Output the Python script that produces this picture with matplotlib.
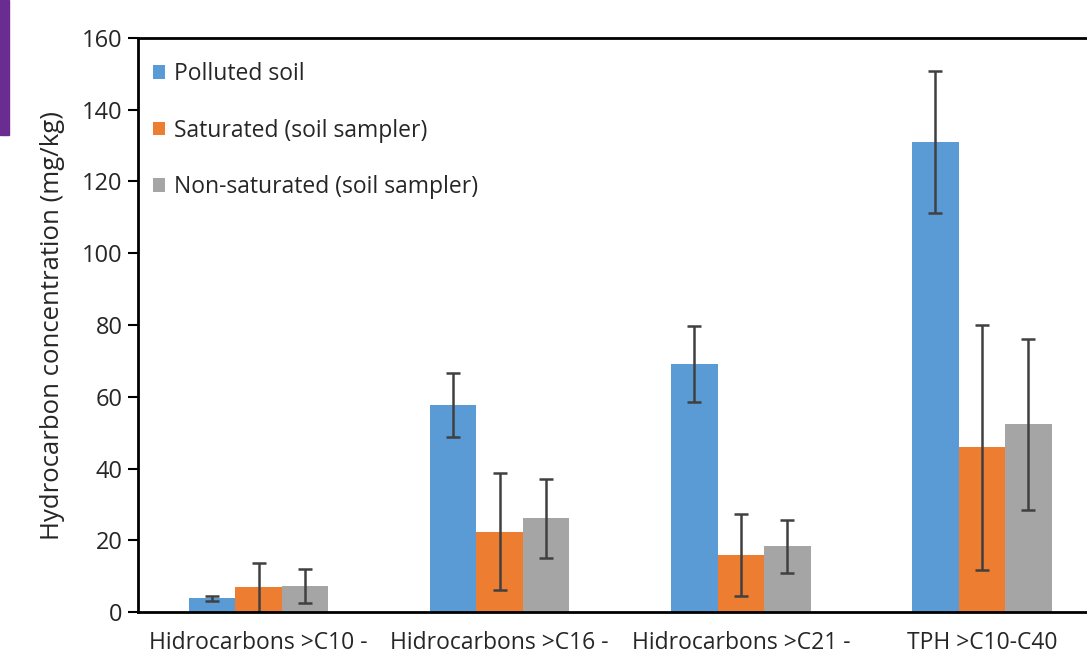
import matplotlib
matplotlib.use("Agg")
import matplotlib.pyplot as plt
import numpy as np
from matplotlib.patches import Rectangle

categories = ["Hidrocarbons >C10 -", "Hidrocarbons >C16 -", "Hidrocarbons >C21 -", "TPH >C10-C40"]
series_names = ["Polluted soil", "Saturated (soil sampler)", "Non-saturated (soil sampler)"]
polluted = [3.8, 57.7, 69.1, 131.0]
polluted_err = [0.8, 8.8, 10.6, 19.7]
saturated = [6.9, 22.4, 15.9, 45.9]
saturated_err = [6.8, 16.3, 11.3, 34.2]
nonsat = [7.3, 26.1, 18.3, 52.3]
nonsat_err = [4.8, 11.0, 7.4, 23.8]
colors = ["#5B9BD5", "#ED7D31", "#A5A5A5"]

plt.rcParams['font.family'] = ['Open Sans', 'DejaVu Sans']

fig = plt.figure(figsize=(10.87, 6.66), dpi=100)
ax = fig.add_axes([0.127, 0.081, 0.873, 0.862])

x = np.arange(len(categories))
w = 0.193
data = [(polluted, polluted_err), (saturated, saturated_err), (nonsat, nonsat_err)]
for i, ((vals, errs), c, name) in enumerate(zip(data, colors, series_names)):
    ax.bar(x + (i - 1) * w, vals, width=w, color=c, label=name,
           yerr=errs, error_kw=dict(ecolor="#404040", elinewidth=1.8, capsize=5, capthick=1.8))

ax.set_xlim(-0.5, 3.436)
ax.set_ylim(0, 160)
ax.set_yticks(np.arange(0, 161, 20))
ax.set_xticks(x)
ax.set_xticklabels(categories, fontsize=16.5, color="#262626")
ax.tick_params(axis='x', length=0, pad=14)
ax.tick_params(axis='y', length=7, width=1.5, labelsize=17, pad=4, labelcolor="#262626")
ax.set_ylabel("Hydrocarbon concentration (mg/kg)", fontsize=18.5, labelpad=12, color="#262626")
for s in ["left", "top", "bottom"]:
    ax.spines[s].set_linewidth(2)
    ax.spines[s].set_color("black")
ax.spines["right"].set_visible(False)

leg = ax.legend(loc="upper left", frameon=False, fontsize=16.5, labelspacing=1.42,
                handlelength=0.55, handleheight=0.55, handletextpad=0.4,
                bbox_to_anchor=(-0.004, 0.99), borderaxespad=0.4)
for t in leg.get_texts():
    t.set_color("#262626")

fig.patches.append(Rectangle((0, 1 - 135 / 666), 9 / 1087, 135 / 666,
                             transform=fig.transFigure, color="#6B2C91", zorder=5))

fig.savefig("out.png", dpi=100)
